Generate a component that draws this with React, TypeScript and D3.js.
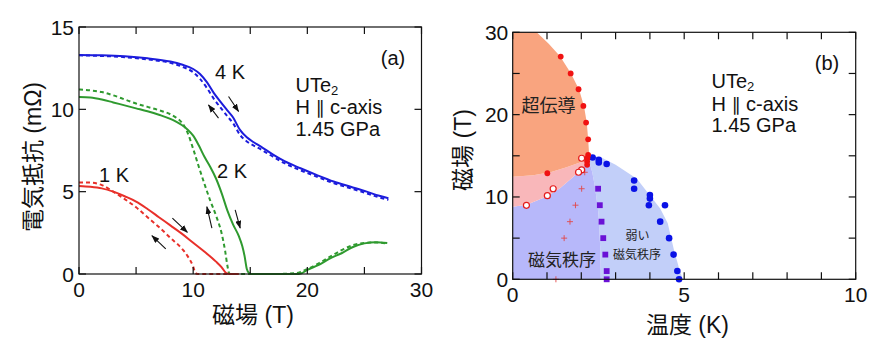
import React from 'react';
import * as d3 from 'd3';

const FONT = "'Liberation Sans', Arial, Helvetica, 'Noto Sans CJK JP', sans-serif";

// ---------- Panel (a): resistance vs field ----------
const fieldTicksA = [0, 10, 20, 30];
const resTicksA = [0, 5, 10, 15];

const blue4KSolidField = [0, 2, 4, 6, 8, 9, 10, 10.6, 11.2, 11.8, 12.4, 12.95, 13.5, 14.1, 14.7, 15.3, 15.9, 17, 18, 19.4, 20.8, 22.3, 23.8, 25.2, 26.3, 27.1];
const blue4KSolidRes = [13.3, 13.28, 13.22, 13.1, 12.9, 12.72, 12.45, 12.15, 11.65, 11.0, 10.45, 9.97, 9.5, 8.75, 8.3, 8.0, 7.75, 7.25, 6.85, 6.42, 6.02, 5.62, 5.3, 5.0, 4.75, 4.6];
const blue4KDashField = [0, 2, 4, 6, 8, 9, 10, 10.6, 11.2, 11.8, 12.4, 12.95, 13.5, 14.1, 14.7, 15.3, 15.9, 17, 18, 19.4, 20.8, 22.3, 23.8, 25.2, 26.3, 27.1];
const blue4KDashRes = [13.28, 13.24, 13.17, 13.03, 12.82, 12.6, 12.25, 11.85, 11.3, 10.65, 10.1, 9.62, 9.15, 8.45, 8.05, 7.8, 7.58, 7.12, 6.73, 6.3, 5.92, 5.52, 5.2, 4.9, 4.65, 4.5];

const green2KSolidField = [0, 1, 2, 3, 4, 5, 6, 7, 8, 8.5, 9, 9.5, 10, 10.5, 11, 11.5, 12, 12.5, 13, 13.5, 14, 14.3, 14.5, 14.7, 14.9, 15.1, 17, 19, 19.5, 20, 21, 22, 23, 24, 25, 26, 27];
const green2KSolidRes = [10.75, 10.72, 10.6, 10.42, 10.24, 10.06, 9.88, 9.67, 9.42, 9.25, 9.05, 8.78, 8.4, 7.8, 7.1, 6.5, 5.8, 4.9, 3.85, 3.0, 2.3, 1.7, 1.1, 0.3, 0.05, 0, 0, 0, 0.05, 0.25, 0.55, 0.95, 1.26, 1.64, 1.86, 1.93, 1.88];
const green2KDashField = [0, 1, 2, 3, 4, 5, 6, 7, 8, 8.5, 9, 9.5, 10, 10.5, 11, 11.5, 12, 12.5, 12.8, 13.0, 13.15, 13.3, 15, 17, 19, 19.5, 20, 21, 22, 23, 24, 25, 26, 27];
const green2KDashRes = [11.2, 11.15, 11.05, 10.85, 10.6, 10.35, 10.15, 9.95, 9.7, 9.5, 9.2, 8.6, 7.6, 6.5, 5.45, 4.45, 3.55, 2.45, 1.4, 0.5, 0.05, 0, 0, 0, 0.05, 0.15, 0.3, 0.65, 1.05, 1.45, 1.75, 1.88, 1.92, 1.85];

const red1KSolidField = [0, 1, 2, 3, 4, 5, 6, 7, 8, 9, 10, 11, 12, 12.5, 12.9, 13.2, 14];
const red1KSolidRes = [5.35, 5.3, 5.2, 5.0, 4.72, 4.4, 3.95, 3.45, 2.95, 2.45, 1.9, 1.35, 0.75, 0.4, 0.05, 0, 0];
const red1KDashField = [0, 1, 2, 3, 4, 5, 6, 7, 8, 9, 9.5, 10, 10.2, 10.4, 13.5];
const red1KDashRes = [5.55, 5.55, 5.4, 5.0, 4.55, 4.05, 3.45, 2.85, 2.2, 1.55, 1.1, 0.45, 0.05, 0, 0];

// arrows (field, resistance) start -> end
const arrowsA: [number, number, number, number][] = [
  [13.1, 10.78, 13.98, 9.87],
  [12.22, 9.47, 11.34, 10.27],
  [11.64, 2.78, 11.2, 4.09],
  [13.68, 3.89, 14.12, 2.78],
  [8.18, 3.39, 9.5, 2.53],
  [7.6, 1.52, 6.38, 2.33],
];

// ---------- Panel (b): phase diagram ----------
const tempTicksB = [0, 5, 10];
const fieldTicksB = [0, 10, 20, 30];

const scRegion: [number, number][] = [[0, 30], [0.7, 30], [1.05, 28.6], [1.38, 27.1], [1.7, 25], [1.94, 23], [2.08, 21], [2.16, 19], [2.2, 17], [2.23, 15], [2.22, 14.5], [1.96, 14.2], [1.57, 13.6], [1.1, 13.0], [0.6, 12.65], [0, 12.45]];
const pinkRegion: [number, number][] = [[0, 12.45], [0.6, 12.65], [1.1, 13.0], [1.57, 13.6], [1.96, 14.2], [2.22, 14.5], [2.06, 13.6], [1.77, 12.45], [1.38, 11.05], [0.99, 10.05], [0.41, 9.05], [0, 8.8]];
const moRegion: [number, number][] = [[0, 8.8], [0.41, 9.05], [0.99, 10.05], [1.38, 11.05], [1.77, 12.45], [2.06, 13.6], [2.22, 14.5], [2.32, 13], [2.4, 11.2], [2.5, 8], [2.55, 4], [2.57, 0], [0, 0]];
const weakRegion: [number, number][] = [[2.22, 14.5], [2.3, 15.05], [2.6, 14.75], [3.0, 13.9], [3.62, 12.2], [3.95, 10.45], [4.3, 8.6], [4.52, 6.8], [4.7, 3.6], [4.86, 1.2], [4.96, 0], [2.57, 0], [2.55, 4], [2.5, 8], [2.4, 11.2], [2.32, 13]];

const redFilledT = [1.4, 1.69, 1.92, 2.06, 2.14, 2.2, 2.2, 2.18, 2.17, 2.17, 1.01];
const redFilledH = [27.05, 25.0, 23.08, 21.06, 19.03, 17.0, 15.1, 14.7, 14.3, 13.9, 12.88];
const redOpenT = [2.01, 2.01, 1.92, 1.18, 1.01, 0.4];
const redOpenH = [14.7, 13.28, 13.0, 11.0, 10.16, 8.99];
const redPlusT = [2.1, 2.01, 1.83, 1.67, 1.5, 1.26];
const redPlusH = [13.0, 11.0, 9.0, 7.0, 5.0, 0.0];
const purpleSqT = [2.49, 2.54, 2.59, 2.64, 2.7, 2.74, 2.74];
const purpleSqH = [11.0, 9.0, 7.0, 5.0, 3.0, 1.0, 0.0];
const blueT = [2.33, 2.51, 2.51, 2.74, 3.54, 3.54, 4.0, 4.0, 3.97, 4.44, 4.3, 4.56, 4.69, 4.8, 4.85];
const blueH = [14.8, 14.5, 14.2, 14.0, 12.0, 11.0, 10.24, 9.8, 9.0, 9.0, 7.0, 5.0, 3.0, 1.0, 0.0];

const BLUE = '#1c1cdc';
const GREEN = '#2f9a2f';
const RED = '#e8302a';

const xA = d3.scaleLinear().domain([0, 30]).range([79, 421.5]);
const yA = d3.scaleLinear().domain([0, 15]).range([274, 27]);
const xB = d3.scaleLinear().domain([0, 10]).range([512.7, 855.7]);
const yB = d3.scaleLinear().domain([0, 30]).range([279.3, 32.3]);

const lineA = d3.line<[number, number]>().x(d => xA(d[0])).y(d => yA(d[1])).curve(d3.curveMonotoneX);
const areaB = d3.line<[number, number]>().x(d => xB(d[0])).y(d => yB(d[1])).curve(d3.curveLinear);

const zip = (a: number[], b: number[]) => a.map((v, i) => [v, b[i]] as [number, number]);

function Frame({ x, y, xTicks, yTicks }: { x: d3.ScaleLinear<number, number>; y: d3.ScaleLinear<number, number>; xTicks: number[]; yTicks: number[] }) {
  const [x0, x1] = x.range();
  const [y0, y1] = y.range();
  const L = 7;
  return (
    <g stroke="#111" strokeWidth={1.2}>
      {xTicks.map(t => (
        <g key={'x' + t}>
          <line x1={x(t)} x2={x(t)} y1={y0} y2={y0 - L} />
          <line x1={x(t)} x2={x(t)} y1={y1} y2={y1 + L} />
        </g>
      ))}
      {yTicks.map(t => (
        <g key={'y' + t}>
          <line x1={x0} x2={x0 + L} y1={y(t)} y2={y(t)} />
          <line x1={x1} x2={x1 - L} y1={y(t)} y2={y(t)} />
        </g>
      ))}
      <rect x={x0} y={y1} width={x1 - x0} height={y0 - y1} fill="none" />
    </g>
  );
}

function InfoBlock({ x, y }: { x: number; y: number }) {
  return (
    <g fontSize={20} fill="#111">
      <text x={x} y={y}>UTe<tspan fontSize={13} dy={3}>2</tspan></text>
      <text x={x} y={y + 22.5}>H <tspan fontFamily="'DejaVu Sans'" fontSize={18}>∥</tspan> c-axis</text>
      <text x={x} y={y + 44}>1.45 GPa</text>
    </g>
  );
}

export default function App() {
  const curves = [
    { f: blue4KSolidField, r: blue4KSolidRes, c: BLUE, dash: '' },
    { f: blue4KDashField, r: blue4KDashRes, c: BLUE, dash: '4,3' },
    { f: green2KSolidField, r: green2KSolidRes, c: GREEN, dash: '' },
    { f: green2KDashField, r: green2KDashRes, c: GREEN, dash: '4,3' },
    { f: red1KSolidField, r: red1KSolidRes, c: RED, dash: '' },
    { f: red1KDashField, r: red1KDashRes, c: RED, dash: '4,3' },
  ];
  const minorXA = d3.range(0, 30.01, 5);
  const minorYA = d3.range(0, 15.01, 5);
  const minorXB = d3.range(0, 10.01, 1);
  const minorYB = d3.range(0, 30.01, 5);

  return (
    <svg width={885} height={345} style={{ position: 'absolute', left: 0, top: 0, background: '#fff' }} fontFamily={FONT}>
      <defs>
        <marker id="ah" viewBox="0 0 8 6" markerWidth={8} markerHeight={6} refX={7.5} refY={3} orient="auto" markerUnits="userSpaceOnUse">
          <path d="M0,0 L8,3 L0,6 Z" fill="#111" />
        </marker>
      </defs>

      {/* Panel (a) */}
      <g>
        {curves.map((cv, i) => (
          <path key={i} d={lineA(zip(cv.f, cv.r)) || ''} fill="none" stroke={cv.c} strokeWidth={2} strokeDasharray={cv.dash || undefined} />
        ))}
        {arrowsA.map((a, i) => (
          <line key={i} x1={xA(a[0])} y1={yA(a[1])} x2={xA(a[2])} y2={yA(a[3])} stroke="#111" strokeWidth={1.1} markerEnd="url(#ah)" />
        ))}
        <Frame x={xA} y={yA} xTicks={minorXA} yTicks={minorYA} />
        {fieldTicksA.map(t => (
          <text key={t} x={xA(t)} y={297} fontSize={21} textAnchor="middle" fill="#111">{t}</text>
        ))}
        {resTicksA.map(t => (
          <text key={t} x={74} y={yA(t) + 7.5} fontSize={21} textAnchor="end" fill="#111">{t}</text>
        ))}
        <text x={253} y={323} fontSize={23} textAnchor="middle" fill="#111">磁場 (T)</text>
        <text transform="translate(41,157) rotate(-90)" fontSize={23} textAnchor="middle" fill="#111">電気抵抗 (mΩ)</text>
        <text x={393} y={65} fontSize={20} textAnchor="middle" fill="#111">(a)</text>
        <text x={215} y={79} fontSize={20} fill="#111">4 K</text>
        <text x={217} y={178} fontSize={20} fill="#111">2 K</text>
        <text x={99} y={181.5} fontSize={20} fill="#111">1 K</text>
        <InfoBlock x={295.5} y={91.5} />
      </g>

      {/* Panel (b) */}
      <g>
        <path d={areaB(weakRegion) + 'Z'} fill="#c2cff9" />
        <path d={areaB(moRegion) + 'Z'} fill="#b7b8fa" />
        <path d={areaB(pinkRegion) + 'Z'} fill="#f9b7ba" />
        <path d={areaB(scRegion) + 'Z'} fill="#f9a47f" />
        {redPlusT.map((t, i) => (
          <g key={i} stroke="#e2484a" strokeWidth={0.9}>
            <line x1={xB(t) - 3} x2={xB(t) + 3} y1={yB(redPlusH[i])} y2={yB(redPlusH[i])} />
            <line x1={xB(t)} x2={xB(t)} y1={yB(redPlusH[i]) - 3} y2={yB(redPlusH[i]) + 3} />
          </g>
        ))}
        {purpleSqT.map((t, i) => (
          <rect key={i} x={xB(t) - 2.9} y={yB(purpleSqH[i]) - 2.9} width={5.8} height={5.8} fill="#6a12d6" />
        ))}
        {blueT.map((t, i) => (
          <circle key={i} cx={xB(t)} cy={yB(blueH[i])} r={3.3} fill="#0a12e6" />
        ))}
        {redFilledT.map((t, i) => (
          <circle key={i} cx={xB(t)} cy={yB(redFilledH[i])} r={2.9} fill="#f01212" />
        ))}
        {redOpenT.map((t, i) => (
          <circle key={i} cx={xB(t)} cy={yB(redOpenH[i])} r={3} fill="#fff" stroke="#e41a1a" strokeWidth={1.2} />
        ))}
        <Frame x={xB} y={yB} xTicks={minorXB} yTicks={minorYB} />
        {tempTicksB.map(t => (
          <text key={t} x={xB(t)} y={302} fontSize={21} textAnchor="middle" fill="#111">{t}</text>
        ))}
        {fieldTicksB.map(t => (
          <text key={t} x={508.3} y={yB(t) + 7.5} fontSize={21} textAnchor="end" fill="#111">{t}</text>
        ))}
        <text x={687.5} y={333} fontSize={23} textAnchor="middle" fill="#111">温度 (K)</text>
        <text transform="translate(471,150) rotate(-90)" fontSize={23} textAnchor="middle" fill="#111">磁場 (T)</text>
        <text x={827} y={70} fontSize={20} textAnchor="middle" fill="#111">(b)</text>
        <InfoBlock x={711.5} y={88} />
        <text x={521.5} y={112} fontSize={18} fill="#222">超伝導</text>
        <text x={528} y={266} fontSize={17} fill="#222">磁気秩序</text>
        <text x={637.5} y={240} fontSize={12} textAnchor="middle" fill="#222">弱い</text>
        <text x={637} y={259} fontSize={12} textAnchor="middle" fill="#222">磁気秩序</text>
      </g>
    </svg>
  );
}
